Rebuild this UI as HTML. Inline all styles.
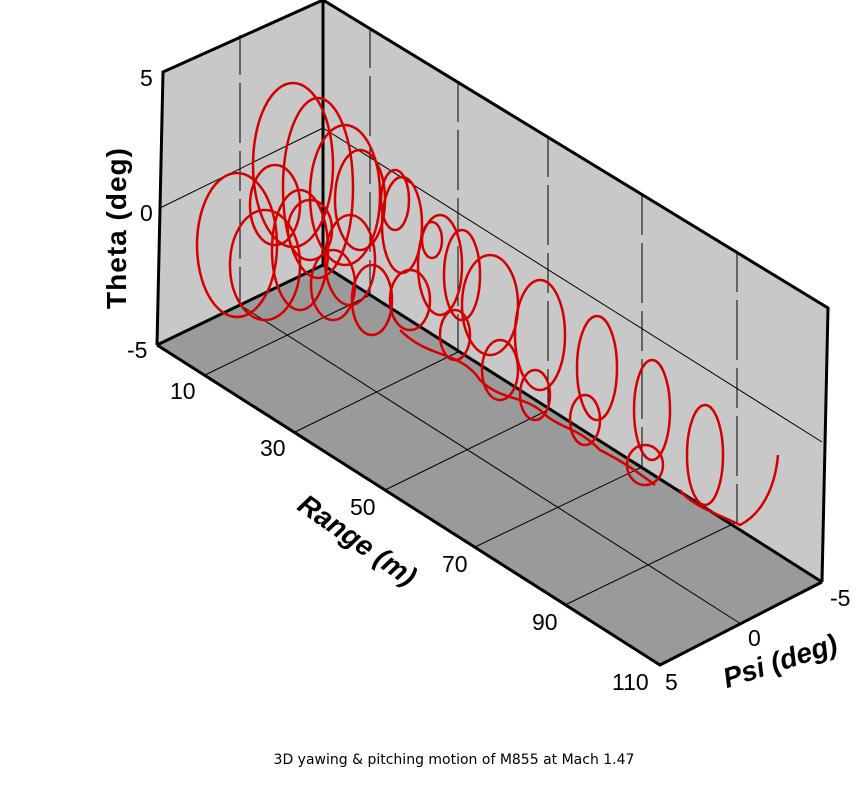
<!DOCTYPE html>
<html><head><meta charset="utf-8"><style>
body{margin:0;background:#fff;}
svg{display:block;font-family:"Liberation Sans",sans-serif;}
</style></head><body>
<svg width="858" height="788" viewBox="0 0 858 788">
<polygon points="163,72 323,0 323,265 157,345" fill="#c8c8c8"/>
<polygon points="323,0 828,308 822,582 323,265" fill="#c8c8c8"/>
<polygon points="157,345 323,265 822,582 660,665" fill="#9a9a9a"/>
<g stroke="#000" stroke-width="1" fill="none">
<line x1="160" y1="208" x2="323" y2="128"/>
<line x1="323" y1="128" x2="822" y2="442"/>
<line x1="240" y1="305" x2="741" y2="624"/>
<line x1="205" y1="375" x2="370" y2="295"/>
<line x1="295" y1="432" x2="458" y2="352"/>
<line x1="385" y1="490" x2="548" y2="410"/>
<line x1="475" y1="547" x2="642" y2="467"/>
<line x1="565" y1="605" x2="737" y2="522"/>
<line x1="240" y1="35" x2="240" y2="305" stroke-dasharray="40,8,60,8"/>
<line x1="370" y1="28" x2="370" y2="295" stroke-dasharray="40,8,60,8"/>
<line x1="458" y1="82" x2="458" y2="352" stroke-dasharray="40,8,60,8"/>
<line x1="548" y1="137" x2="548" y2="410" stroke-dasharray="40,8,60,8"/>
<line x1="642" y1="195" x2="642" y2="467" stroke-dasharray="40,8,60,8"/>
<line x1="737" y1="252" x2="737" y2="522" stroke-dasharray="40,8,60,8"/>
</g>
<g stroke="#000" stroke-width="3" fill="none">
<polyline points="157,345 163,72 323,0 828,308 822,582"/>
<line x1="323" y1="0" x2="323" y2="265"/>
<polyline points="157,345 323,265 822,582"/>
<polyline points="157,345 660,665 822,582"/>
</g>
<g stroke="#d40000" stroke-width="2.5" fill="none">
<ellipse cx="237" cy="245" rx="40" ry="72"/>
<ellipse cx="293" cy="165" rx="40" ry="82"/>
<ellipse cx="318" cy="188" rx="35" ry="90"/>
<ellipse cx="275" cy="205" rx="25" ry="40"/>
<ellipse cx="265" cy="265" rx="35" ry="55"/>
<ellipse cx="300" cy="250" rx="28" ry="60"/>
<ellipse cx="310" cy="230" rx="22" ry="30"/>
<ellipse cx="345" cy="195" rx="35" ry="70"/>
<ellipse cx="360" cy="200" rx="25" ry="50"/>
<ellipse cx="333" cy="285" rx="22" ry="35"/>
<ellipse cx="350" cy="260" rx="25" ry="45"/>
<ellipse cx="372" cy="300" rx="20" ry="35"/>
<ellipse cx="402" cy="225" rx="20" ry="48"/>
<ellipse cx="395" cy="200" rx="14" ry="30"/>
<ellipse cx="410" cy="300" rx="20" ry="30"/>
<ellipse cx="440" cy="265" rx="22" ry="50"/>
<ellipse cx="432" cy="240" rx="10" ry="18"/>
<ellipse cx="455" cy="335" rx="15" ry="25"/>
<ellipse cx="462" cy="275" rx="18" ry="45"/>
<ellipse cx="490" cy="305" rx="28" ry="50"/>
<ellipse cx="500" cy="370" rx="18" ry="30"/>
<ellipse cx="540" cy="335" rx="25" ry="55"/>
<ellipse cx="535" cy="395" rx="15" ry="25"/>
<ellipse cx="597" cy="368" rx="20" ry="52"/>
<ellipse cx="585" cy="420" rx="15" ry="25"/>
<ellipse cx="652" cy="410" rx="18" ry="50"/>
<ellipse cx="645" cy="465" rx="18" ry="20"/>
<ellipse cx="705" cy="455" rx="18" ry="50"/>
<path d="M680,490 C690,505 720,515 740,525 C760,515 775,490 778,455"/>
<path d="M400,330 C430,360 460,350 480,380 C500,400 520,395 540,410 C560,430 575,425 600,450 C620,460 635,470 655,485"/>
</g>
<g font-size="23" fill="#000">
<text x="140" y="86">5</text>
<text x="140" y="221">0</text>
<text x="127" y="358">-5</text>
<text x="170" y="399">10</text>
<text x="260" y="456">30</text>
<text x="350" y="515">50</text>
<text x="442" y="572">70</text>
<text x="532" y="630">90</text>
<text x="612" y="690">110</text>
<text x="665" y="690">5</text>
<text x="748" y="646">0</text>
<text x="830" y="606">-5</text>
</g>
<text transform="translate(126,228) rotate(-90)" font-size="28" font-weight="bold" text-anchor="middle" letter-spacing="1">Theta (deg)</text>
<text transform="translate(352,548) rotate(35)" font-size="28" font-weight="bold" font-style="italic" text-anchor="middle">Range (m)</text>
<text transform="translate(783,670) rotate(-18)" font-size="28" font-weight="bold" font-style="italic" text-anchor="middle">Psi (deg)</text>
<text x="454" y="764" font-size="14" text-anchor="middle" font-family="DejaVu Sans, sans-serif">3D yawing &amp; pitching motion of M855 at Mach 1.47</text>
</svg>
</body></html>
